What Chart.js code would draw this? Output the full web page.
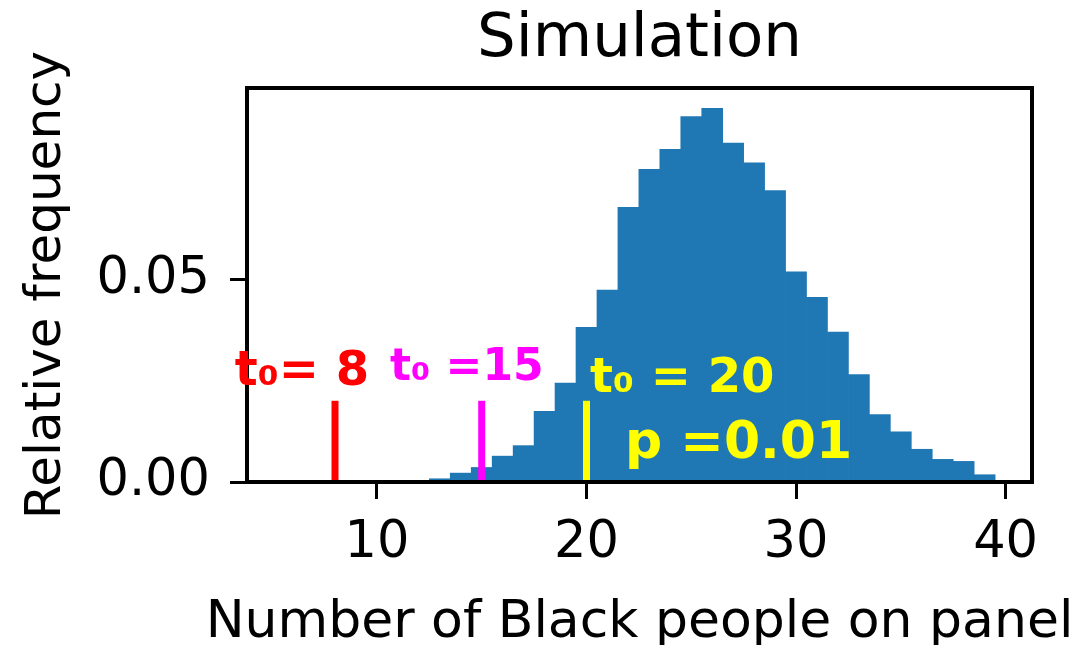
<!DOCTYPE html>
<html>
<head>
<meta charset="utf-8">
<script src="https://cdn.jsdelivr.net/npm/chart.js@4.4.1/dist/chart.umd.min.js"></script>
<style>
  html, body { margin: 0; padding: 0; background: #fff; }
</style>
</head>
<body>
<canvas id="simhist" width="1073" height="645"></canvas>
<script>
/* HISTOGRAMA DA SIMULACAO */

// number of Black people on the panel (bin centres, bins 1 wide)
const panelCounts = [13, 14, 15, 16, 17, 18, 19, 20, 21, 22, 23, 24, 25, 26,
  27, 28, 29, 30, 31, 32, 33, 34, 35, 36, 37, 38, 39];

// relative frequency for each bin
const relFreq = [0.0008, 0.0022, 0.0036, 0.0064, 0.0090, 0.0175, 0.0245,
  0.0383, 0.0475, 0.0680, 0.0774, 0.0823, 0.0904, 0.0925,
  0.0839, 0.0790, 0.0721, 0.0520, 0.0457, 0.0371, 0.0266,
  0.0167, 0.0124, 0.0081, 0.0056, 0.0051, 0.0018];

const xTickValues = [10, 20, 30, 40];
const yTickValues = [0, 0.05];
const xLabel = 'Number of Black people on panel';

// observed statistics marked by hand
const markerValues = [8, 15, 20];
const markerTop = [0.0201, 0.0201, 0.0201];
const markerColors = ['#ff0000', '#ff00ff', '#ffff00'];

// handwritten notes
const noteTexts = ['t\u2080= 8', 't\u2080 =15', 't\u2080 = 20', 'p =0.01'];
const noteX = [3.22, 10.62, 20.17, 21.84];
const noteY = [0.0240, 0.0252, 0.0223, 0.0059];
const noteColors = ['#ff0000', '#ff00ff', '#ffff00', '#ffff00'];
const noteSizes = [48, 44, 48, 52];

const histData = panelCounts.map((c, i) => ({ x: c, y: relFreq[i] }));

const markerSets = markerValues.map((v, i) => ({
  type: 'line',
  data: [{ x: v, y: 0 }, { x: v, y: markerTop[i] }],
  borderColor: markerColors[i],
  borderWidth: 7,
  borderCapStyle: 'butt',
  pointRadius: 0,
  order: 1
}));

// frame round the plot area (matplotlib spines), x label (wider than the
// plot, so chart.js would squeeze it) and the handwritten notes
const frameAndNotes = {
  id: 'frameAndNotes',
  afterDatasetsDraw(chart) {
    const { ctx, chartArea, scales } = chart;
    ctx.save();
    ctx.strokeStyle = '#000';
    ctx.lineWidth = 4;
    ctx.strokeRect(chartArea.left, chartArea.top,
      chartArea.right - chartArea.left, chartArea.bottom - chartArea.top);

    ctx.font = '52px "DejaVu Sans"';
    ctx.fillStyle = '#000';
    ctx.textAlign = 'center';
    ctx.textBaseline = 'alphabetic';
    ctx.fillText(xLabel, (chartArea.left + chartArea.right) / 2, 637);

    noteTexts.forEach((t, i) => {
      ctx.font = 'bold ' + noteSizes[i] + 'px "DejaVu Sans"';
      ctx.fillStyle = noteColors[i];
      ctx.textAlign = 'left';
      ctx.fillText(t, scales.x.getPixelForValue(noteX[i]), scales.y.getPixelForValue(noteY[i]));
    });
    ctx.restore();
  }
};

const tickFont = { family: 'DejaVu Sans', size: 51 };

const confighist = {
  type: 'bar',
  data: {
    datasets: [{
      type: 'bar',
      data: histData,
      backgroundColor: '#1f77b4',
      borderWidth: 0,
      barPercentage: 1,
      categoryPercentage: 1,
      order: 2
    }].concat(markerSets)
  },
  options: {
    responsive: false,
    animation: false,
    devicePixelRatio: 1,
    layout: { padding: { left: 0, right: 41, top: 0, bottom: 0 } },
    plugins: {
      legend: { display: false },
      tooltip: { enabled: false },
      title: {
        display: true,
        fullSize: false,
        text: 'Simulation',
        color: '#000',
        font: { family: 'DejaVu Sans', size: 61, weight: 'normal', lineHeight: 1 },
        padding: { top: 10, bottom: 17 }
      }
    },
    scales: {
      x: {
        type: 'linear',
        min: 3.8,
        max: 41.26,
        offset: false,
        afterBuildTicks: (s) => { s.ticks = xTickValues.map(v => ({ value: v })); },
        afterFit: (s) => { s.height = 163; },
        ticks: { font: tickFont, color: '#000', padding: 14, maxRotation: 0, autoSkip: false },
        grid: { display: true, drawOnChartArea: false, drawTicks: true, tickLength: 17, tickWidth: 3, color: '#000', offset: false },
        border: { display: true, color: '#000', width: 4 },
        title: { display: false }
      },
      y: {
        min: 0,
        max: 0.0975,
        afterBuildTicks: (s) => { s.ticks = yTickValues.map(v => ({ value: v })); },
        afterFit: (s) => { s.width = 247; },
        ticks: { font: tickFont, color: '#000', padding: 20, callback: (v) => v.toFixed(2) },
        grid: { display: true, drawOnChartArea: false, drawTicks: true, tickLength: 17, tickWidth: 3, color: '#000' },
        border: { display: true, color: '#000', width: 4 },
        title: {
          display: true,
          text: 'Relative frequency',
          color: '#000',
          font: { family: 'DejaVu Sans', size: 50, lineHeight: 1.2 },
          padding: { top: 17, bottom: 0 }
        }
      }
    }
  },
  plugins: [frameAndNotes]
};

const charthist = new Chart(document.getElementById('simhist'), confighist);
</script>
</body>
</html>
